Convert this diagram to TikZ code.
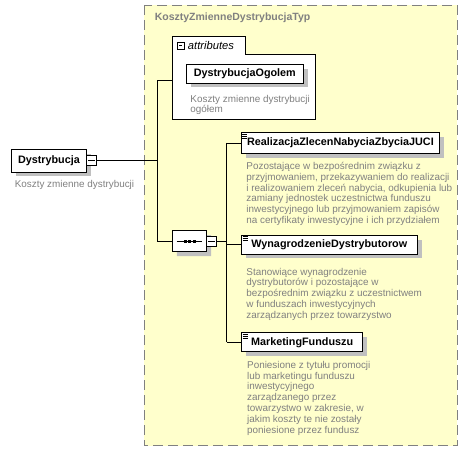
\documentclass[tikz,border=0pt]{standalone}
\usepackage{fontspec}
\setmainfont{Liberation Sans}
\usetikzlibrary{shapes,shapes.misc,calc,positioning,shadows}
\definecolor{typfill}{RGB}{255,255,204}
\definecolor{grayline}{RGB}{128,128,128}
\definecolor{shadowgray}{RGB}{192,192,192}
\tikzset{el/.style={draw, fill=white, anchor=north west, inner sep=0pt, font=\fontsize{10.8}{12}\selectfont\bfseries, drop shadow={shadow xshift=4.5pt, shadow yshift=-4.5pt, fill=shadowgray, opacity=1}}}
\tikzstyle{desc}=[anchor=north west, inner sep=0pt, align=left, text=grayline, font=\fontsize{9.9}{10.8}\selectfont]
\tikzstyle{seqst}=[draw, fill=white, chamfered rectangle, chamfered rectangle sep=4pt, inner sep=0pt, drop shadow={shadow xshift=4.5pt, shadow yshift=-4.5pt, fill=shadowgray, opacity=1}]
\tikzset{minusbox/.style={draw, fill=white, inner sep=0pt, minimum size=#1, path picture={\draw ([xshift=1.8pt]path picture bounding box.west) -- ([xshift=-1.8pt]path picture bounding box.east);}}}
\newcommand{\elmark}[1]{\foreach \k in {1.7,3.7,5.7} \draw[line width=0.7pt] ($(#1.north west)+(1.5,\k)$) -- ++(5,0);}

\begin{document}
\begin{tikzpicture}[x=1pt, y=-1pt, line width=0.9pt]
\useasboundingbox (0,0) rectangle (468,452);
\draw[grayline, dash pattern=on 10pt off 5pt, fill=typfill] (144,5) rectangle (457.3,445.7);
\node[anchor=west, text=grayline, font=\fontsize{10.5}{12}\selectfont\bfseries] (typ) at (151,18) {KosztyZmienneDystrybucjaTyp};

\draw[fill=white] (172.3,119.3) -- (172.3,36.7) -- (245,36.7) -- (245,54) -- (315.7,54) -- (315.7,119.3) -- cycle;
\node[minusbox=7pt] (aminus) at (180.7,45.7) {};
\node[anchor=west, inner sep=0pt, font=\fontsize{11.2}{12}\selectfont\itshape] (attr) at (187.5,45.7) {attributes};
\coordinate (attrin) at (172.3,80);

\node[el, minimum width=75pt, minimum height=22.5pt] (dyst) at (11,149) {Dystrybucja};
\node[minusbox=10pt] (dminus) at (91.3,160) {};
\node[desc, below=7.7pt of dyst.south west, anchor=north west, xshift=3.3pt] (dystdesc) {Koszty zmienne dystrybucji};

\node[el, minimum width=117.3pt, minimum height=18.5pt] (ogolem) at (185.7,64) {DystrybucjaOgolem};
\node[desc, below=11pt of ogolem.south west, anchor=north west, xshift=4.3pt] (ogolemdesc) {Koszty zmienne dystrybucji\\ogółem};

\node[seqst, minimum width=34.4pt, minimum height=21pt] (seq) at (189.5,241.2) {};
\draw (seq.center) ++(-12.8,0) -- ++(25.6,0);
\foreach \d in {-4.5,0,4.5} \fill ($(seq.center)+(\d,0)$) +(-1.5,-1.5) rectangle +(1.5,1.5);
\node[minusbox=10pt] (sminus) at (211.4,241) {};
\coordinate (bus) at (226.7,0);

\node[el, minimum width=198.6pt, minimum height=20.4pt] (real) at (240.7,132.3) {RealizacjaZlecenNabyciaZbyciaJUCI};
\elmark{real}
\node[desc, below=8.1pt of real.south west, anchor=north west, xshift=5.3pt] (realdesc) {Pozostające w bezpośrednim związku z\\przyjmowaniem, przekazywaniem do realizacji\\i realizowaniem zleceń nabycia, odkupienia lub\\zamiany jednostek uczestnictwa funduszu\\inwestycyjnego lub przyjmowaniem zapisów\\na certyfikaty inwestycyjne i ich przydziałem};

\node[el, minimum width=175.7pt, minimum height=18.5pt] (wyn) at (241,235) {WynagrodzenieDystrybutorow};
\elmark{wyn}
\node[desc, below=13pt of wyn.south west, anchor=north west, xshift=5pt] (wyndesc) {Stanowiące wynagrodzenie\\dystrybutorów i pozostające w\\bezpośrednim związku z uczestnictwem\\w funduszach inwestycyjnych\\zarządzanych przez towarzystwo};

\node[el, minimum width=121.3pt, minimum height=19pt] (mark) at (241,332.3) {MarketingFunduszu};
\elmark{mark}
\node[desc, below=8.5pt of mark.south west, anchor=north west, xshift=5.7pt] (markdesc) {Poniesione z tytułu promocji\\lub marketingu funduszu\\inwestycyjnego\\zarządzanego przez\\towarzystwo w zakresie, w\\jakim koszty te nie zostały\\poniesione przez fundusz};

\coordinate (jtop) at (157.3,80);
\draw (jtop) -- (attrin);
\draw (dminus.east) -- (dminus.east -| jtop);
\draw (jtop) -- (jtop |- seq.west);
\draw (jtop |- seq.west) -- (seq.west);
\draw (sminus.east) -- (sminus.east -| bus);
\draw (real.west -| bus) -- (mark.west -| bus);
\foreach \e in {real,wyn,mark} \draw (\e.west -| bus) -- (\e.west);
\end{tikzpicture}
\end{document}
